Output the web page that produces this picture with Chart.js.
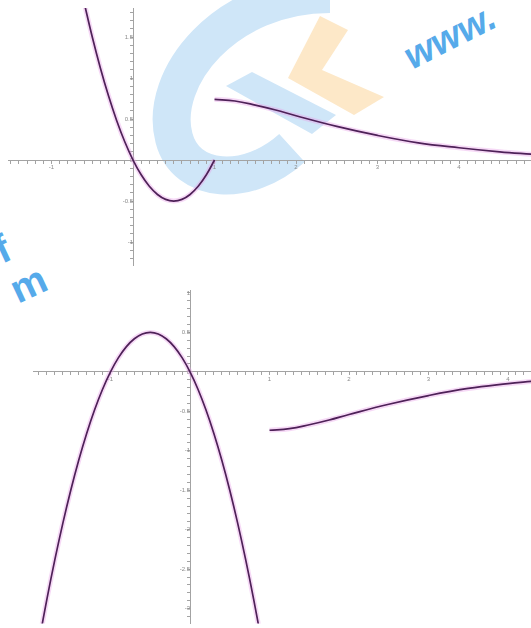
<!DOCTYPE html>
<html>
<head>
<meta charset="utf-8">
<script src="https://cdn.jsdelivr.net/npm/chart.js@4/dist/chart.umd.min.js"></script>
<style>
  html, body { margin: 0; padding: 0; background: #fff; }
  #stage { position: relative; width: 531px; height: 628px; overflow: hidden; background: #fff; }
  #mark { position: absolute; left: 0; top: 0; z-index: 0; }
  .box { position: absolute; left: 0; width: 531px; z-index: 1; }
  #topBox { top: 0; height: 280px; }
  #bottomBox { top: 282px; height: 346px; }
</style>
</head>
<body>
<div id="stage">
  <svg id="mark" width="531" height="628" xmlns="http://www.w3.org/2000/svg">
    <path d="M 330 -6 C 225 -6, 158 78, 174 138 C 186 184, 248 188, 292 148" stroke="#cfe6f8" stroke-width="38" fill="none"/>
    <polygon points="226,86 252,72 336,115 312,134" fill="#cfe6f8"/>
    <polygon points="320,16 348,30 322,70 384,97 354,115 288,78" fill="#fde8c8"/>
    <text x="412" y="70" transform="rotate(-27 412 70)" fill="#56aaea" font-family="Liberation Sans" font-weight="bold" font-style="italic" font-size="38">www.</text>
    <text x="2" y="264" transform="rotate(-25 2 264)" fill="#56aaea" font-family="Liberation Sans" font-weight="bold" font-size="40">f</text>
    <text x="18" y="304" transform="rotate(-25 18 304)" fill="#56aaea" font-family="Liberation Sans" font-weight="bold" font-size="40">m</text>
  </svg>
  <div class="box" id="topBox"><canvas id="topChart"></canvas></div>
  <div class="box" id="bottomBox"><canvas id="bottomChart"></canvas></div>
</div>
<script>
// Upper graph: parabola piece on [-0.6, 1] and decaying piece on [1, 4.9]
const upperLeftX  = [-0.6, -0.5, -0.4, -0.3, -0.2, -0.1, 0, 0.1, 0.2, 0.3, 0.4, 0.5, 0.6, 0.7, 0.8, 0.9, 1.0];
const upperLeftY  = [1.92, 1.5, 1.12, 0.78, 0.48, 0.22, 0, -0.18, -0.32, -0.42, -0.48, -0.5, -0.48, -0.42, -0.32, -0.18, 0];
const upperRightX = [1.0, 1.25, 1.5, 1.75, 2.0, 2.5, 3.0, 3.5, 4.0, 4.5, 4.9];
const upperRightY = [0.74, 0.72, 0.67, 0.61, 0.54, 0.41, 0.3, 0.21, 0.15, 0.1, 0.07];

// Lower graph: downward parabola on [-1.9, 0.9] and rising piece on [1, 4.3]
const lowerLeftX  = [-1.9, -1.8, -1.7, -1.6, -1.5, -1.4, -1.3, -1.2, -1.1, -1.0, -0.9, -0.8, -0.7, -0.6, -0.5, -0.4, -0.3, -0.2, -0.1, 0, 0.1, 0.2, 0.3, 0.4, 0.5, 0.6, 0.7, 0.8, 0.9];
const lowerLeftY  = [-3.42, -2.88, -2.38, -1.92, -1.5, -1.12, -0.78, -0.48, -0.22, 0, 0.18, 0.32, 0.42, 0.48, 0.5, 0.48, 0.42, 0.32, 0.18, 0, -0.22, -0.48, -0.78, -1.12, -1.5, -1.92, -2.38, -2.88, -3.42];
const lowerRightX = [1.0, 1.25, 1.5, 1.75, 2.0, 2.5, 3.0, 3.5, 4.0, 4.3];
const lowerRightY = [-0.74, -0.72, -0.67, -0.61, -0.54, -0.41, -0.3, -0.21, -0.15, -0.12];

// Axis windows and label steps
const upperRange = { xMin: -1.534, xMax: 4.883, yMin: -1.28, yMax: 1.854 };
const lowerRange = { xMin: -1.975, xMax: 4.289, yMin: -3.1875, yMax: 1.0375 };
const minorStep = 0.1;
const xLabelStep = 1;
const yLabelStep = 0.5;

const curveColor = '#4e2158';
const haloColor = 'rgba(232, 160, 232, 0.4)';
const axisColor = '#a3a3a3';
const labelColor = '#8a8a8a';

function pairs(xs, ys) { return xs.map((x, i) => ({ x: x, y: ys[i] })); }

function curveSets(pieces) {
  const sets = [];
  pieces.forEach(p => {
    sets.push({ data: pairs(p[0], p[1]), showLine: true, pointRadius: 0, borderColor: haloColor, borderWidth: 5, tension: 0.4, order: 2 });
    sets.push({ data: pairs(p[0], p[1]), showLine: true, pointRadius: 0, borderColor: curveColor, borderWidth: 1.7, tension: 0.4, order: 1 });
  });
  return sets;
}

function labelAt(step, withZero) {
  return function (v) {
    const r = Math.round(v * 10) / 10;
    const k = r / step;
    if (Math.abs(k - Math.round(k)) > 1e-6) return '';
    if (Math.abs(r) < 1e-9) return withZero ? '0' : '';
    return String(Math.round(r * 10) / 10);
  };
}

function axis(min, max, where, step, withZero) {
  return {
    type: 'linear', min: min, max: max, position: where,
    border: { display: true, color: axisColor, width: 1 },
    grid: { drawOnChartArea: false, drawTicks: true, tickLength: 3, color: axisColor },
    ticks: {
      stepSize: minorStep, includeBounds: false, autoSkip: false,
      maxRotation: 0, minRotation: 0, padding: 1,
      color: labelColor, font: { family: 'Liberation Sans', size: 6 },
      callback: labelAt(step, withZero)
    }
  };
}

function makeChart(id, pieces, range, pad) {
  return new Chart(document.getElementById(id), {
    type: 'scatter',
    data: { datasets: curveSets(pieces) },
    options: {
      responsive: true, maintainAspectRatio: false, animation: false, devicePixelRatio: 1,
      layout: { padding: pad },
      plugins: { legend: { display: false }, tooltip: { enabled: false } },
      scales: {
        x: axis(range.xMin, range.xMax, { y: 0 }, xLabelStep, false),
        y: axis(range.yMin, range.yMax, { x: 0 }, yLabelStep, true)
      }
    }
  });
}

makeChart('topChart', [[upperLeftX, upperLeftY], [upperRightX, upperRightY]], upperRange, { left: 8, top: 8, right: 0, bottom: 15 });
makeChart('bottomChart', [[lowerLeftX, lowerLeftY], [lowerRightX, lowerRightY]], lowerRange, { left: 33, top: 8, right: 0, bottom: 0 });
</script>
</body>
</html>
